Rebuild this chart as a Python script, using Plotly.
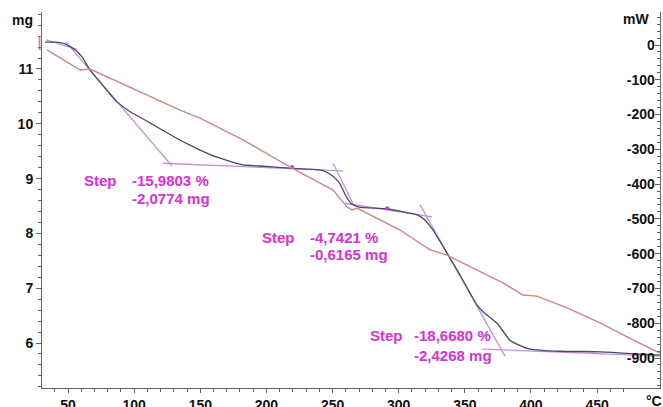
import plotly.graph_objects as go

# ---- TG curve (temperature °C, mass mg)
tg_temp = [32.6, 40.2, 47.7, 55.3, 60.6, 66.6, 74.2, 81.8, 87.1, 96.9, 108.2,
           119.6, 134.7, 142.2, 149.8, 162.7, 182.3, 195.2, 217.9, 240.5, 245.2,
           249.8, 255.2, 259.7, 264.2, 270.2, 290.6, 313.9, 319.2, 326.0, 336.6,
           346.4, 354.0, 359.3, 363.8, 374.4, 384.2, 394.0, 399.3, 422.0, 452.3,
           497.6]
tg_mass = [11.49, 11.49, 11.46, 11.35, 11.22, 10.98, 10.76, 10.54, 10.40, 10.22, 10.07,
           9.91, 9.70, 9.61, 9.52, 9.39, 9.25, 9.23, 9.19, 9.16, 9.12,
           9.05, 8.92, 8.70, 8.54, 8.48, 8.45, 8.34, 8.26, 8.06, 7.64,
           7.24, 6.91, 6.69, 6.57, 6.36, 6.05, 5.93, 5.89, 5.85, 5.84,
           5.78]

# ---- DSC curve (temperature °C, heat flow mW)
dsc_temp = [34.1, 59.1, 66.6, 96.9, 134.7, 149.8, 182.3, 219.4, 250.4, 261.0, 264.7,
            268.5, 301.0, 323.7, 336.6, 351.7, 378.9, 394.0, 404.6, 427.3, 452.3,
            477.2, 497.6]
dsc_mw = [-14, -72, -69, -121, -187, -210, -273, -354, -417, -466, -474,
          -469, -532, -589, -604, -633, -684, -719, -722, -756, -799,
          -848, -886]

# ---- tangent construction lines (segments: start/end temperature and mass)
tan_t0 = [33.4, 48.5, 121.8, 250.4, 259.5, 316.2, 363.0]
tan_m0 = [11.53, 11.49, 9.28, 9.28, 8.55, 8.52, 5.89]
tan_t1 = [56.8, 128.6, 257.9, 266.3, 325.2, 380.4, 497.6]
tan_m1 = [11.36, 9.23, 9.14, 8.50, 8.30, 5.76, 5.76]

# ---- marker dots on TG
dot_temp = [219.4, 291.3]
dot_mass = [9.21, 8.46]

# ---- step results
step_pct = ["-15,9803 %", "-4,7421 %", "-18,6680 %"]
step_mg = ["-2,0774 mg", "-0,6165 mg", "-2,4268 mg"]

# ---- ticks
x_ticks = [50, 100, 150, 200, 250, 300, 350, 400, 450]
mg_ticks = [6, 7, 8, 9, 10, 11]
mw_ticks = [0, -100, -200, -300, -400, -500, -600, -700, -800, -900]
mw_labels = ["0", "-100", "-200", "-300", "-400", "-500", "-600", "-700", "-800", "-900"]

TG_COL = "#4a4a68"
DSC_COL = "#c98a84"
TAN_COL = "#c990da"
TXT_COL = "#d632d6"
FONT = "Liberation Sans"

fig = go.Figure()

fig.add_trace(go.Scatter(x=dsc_temp, y=dsc_mw, yaxis="y2", mode="lines",
                         line=dict(color=DSC_COL, width=1.4), showlegend=False))

tx, ty = [], []
for a, b, c, d in zip(tan_t0, tan_m0, tan_t1, tan_m1):
    tx += [a, c, None]
    ty += [b, d, None]
fig.add_trace(go.Scatter(x=tx, y=ty, mode="lines",
                         line=dict(color=TAN_COL, width=1.3), showlegend=False))

fig.add_trace(go.Scatter(x=tg_temp, y=tg_mass, mode="lines",
                         line=dict(color=TG_COL, width=1.3, shape="spline", smoothing=0.4),
                         showlegend=False))

fig.add_trace(go.Scatter(x=dot_temp, y=dot_mass, mode="markers",
                         marker=dict(color=TXT_COL, size=4), showlegend=False))

annotations = []
step_pos = [(60.6, 96.9, 8.97, 8.63), (195.2, 231.5, 7.93, 7.61), (276.8, 310.1, 6.13, 5.78)]
for (xs, xv, y1, y2), p, m in zip(step_pos, step_pct, step_mg):
    f = dict(family=FONT, size=15, color=TXT_COL, weight="bold")
    annotations.append(dict(x=xs, y=y1, xref="x", yref="y", text="Step", showarrow=False,
                            xanchor="left", yanchor="middle", font=f))
    annotations.append(dict(x=xv, y=y1, xref="x", yref="y", text=p, showarrow=False,
                            xanchor="left", yanchor="middle", font=f))
    annotations.append(dict(x=xv, y=y2, xref="x", yref="y", text=m, showarrow=False,
                            xanchor="left", yanchor="middle", font=f))

lab = dict(family=FONT, size=14, color="#111", weight="bold")
annotations.append(dict(x=-0.031, y=0.979, xref="paper", yref="paper", text="mg",
                        showarrow=False, xanchor="center", yanchor="middle", font=lab))
annotations.append(dict(x=0.961, y=0.982, xref="paper", yref="paper", text="mW",
                        showarrow=False, xanchor="center", yanchor="middle", font=lab))
annotations.append(dict(x=0.990, y=-0.035, xref="paper", yref="paper", text="°C",
                        showarrow=False, xanchor="center", yanchor="middle", font=lab))
annotations.append(dict(x=-0.004, y=0.92, xref="paper", yref="paper", text="[",
                        showarrow=False, xanchor="center", yanchor="middle",
                        font=dict(family=FONT, size=14, color="#d06a5a")))

fig.update_layout(
    width=663, height=407,
    margin=dict(l=42, r=3, t=12, b=19, autoexpand=False),
    paper_bgcolor="white", plot_bgcolor="white",
    showlegend=False,
    annotations=annotations,
    xaxis=dict(range=[30.3, 497.6], tickvals=x_ticks, ticks="outside", ticklen=4,
               tickcolor="#666", showline=True, linecolor="#666", linewidth=1,
               showgrid=False, zeroline=False, tickfont=lab, automargin=False,
               minor=dict(dtick=10, tick0=0, ticks="outside", ticklen=3, tickcolor="#666")),
    yaxis=dict(range=[5.179, 12.04], tickvals=mg_ticks, ticks="outside", ticklen=5,
               tickcolor="#666", showline=True, linecolor="#666", linewidth=1,
               showgrid=False, zeroline=False, tickfont=lab, automargin=False,
               minor=dict(dtick=0.2, tick0=0, ticks="outside", ticklen=3, tickcolor="#666")),
    yaxis2=dict(range=[-986.2, 94.9], tickvals=mw_ticks, ticktext=mw_labels,
                overlaying="y", side="right",
                ticks="inside", ticklabelposition="inside", ticklen=5,
                tickcolor="#666", showline=True, linecolor="#666", linewidth=1,
                showgrid=False, zeroline=False, tickfont=lab, automargin=False,
                minor=dict(dtick=20, tick0=0, ticks="inside", ticklen=3, tickcolor="#666")),
)

fig.write_html("out.html", config={"displayModeBar": False},
               post_script="document.body.style.margin='0';document.body.style.overflow='hidden';")
